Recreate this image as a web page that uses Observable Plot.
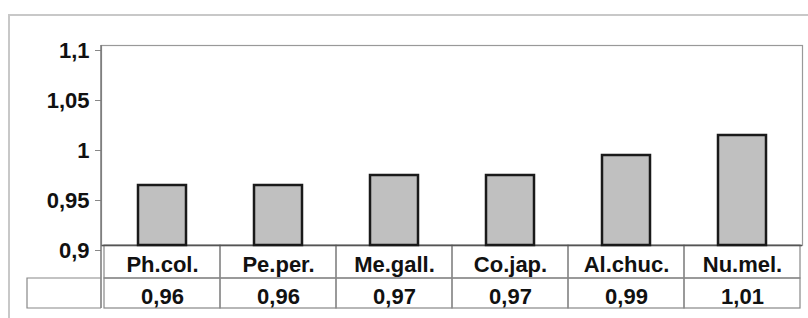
<!DOCTYPE html>
<html><head><meta charset="utf-8">
<script src="https://cdn.jsdelivr.net/npm/d3@7"></script>
<script src="https://cdn.jsdelivr.net/npm/@observablehq/plot@0.6"></script>
<style>
body{margin:0;background:#fff;}
svg{font-family:"Liberation Sans",Arial,sans-serif;font-weight:bold;}
</style></head>
<body>
<div id="chart"></div>
<script>
const categories = ["Ph.col.", "Pe.per.", "Me.gall.", "Co.jap.", "Al.chuc.", "Nu.mel."];
const values = [0.96, 0.96, 0.97, 0.97, 0.99, 1.01];
const yTicks = [0.9, 0.95, 1, 1.05, 1.1];

const data = categories.map((c, i) => ({cat: c, value: values[i]}));
const fmt = d => String(d).replace(".", ",");

const W = 808, H = 318;
const mL = 101, mR = 6, mT = 45, mB = 73;
const yMin = 0.9, yMax = 1.1;
const pxPerUnit = (H - mT - mB) / (yMax - yMin);
const row1 = yMin - 33 / pxPerUnit;   // bottom of category row
const row2 = yMin - 63 / pxPerUnit;   // bottom of value row

const plot = Plot.plot({
  width: W, height: H,
  marginLeft: mL, marginRight: mR, marginTop: mT, marginBottom: mB,
  style: {fontSize: "22px", fontWeight: "bold", color: "#111", background: "#fff"},
  x: {domain: categories, padding: 0, axis: null},
  y: {domain: [yMin, yMax], ticks: yTicks, tickFormat: fmt, label: null},
  marks: [
    Plot.frame({stroke: "#999", strokeWidth: 1.2}),
    // table cells
    Plot.barY(data, {x: "cat", y1: row1, y2: yMin, fill: "none", stroke: "#888", strokeWidth: 1.2}),
    Plot.barY(data, {x: "cat", y1: row2, y2: row1, fill: "none", stroke: "#888", strokeWidth: 1.2}),
    Plot.ruleY([yMin], {stroke: "#555", strokeWidth: 1.5}),
    Plot.barY(data, {x: "cat", y1: yMin, y2: "value", fill: "#c0c0c0", stroke: "#1a1a1a", strokeWidth: 2.5, insetLeft: 34, insetRight: 34}),
    Plot.axisY({ticks: yTicks, tickFormat: fmt, tickSize: 6, tickPadding: 6, label: null, stroke: "#888", dy: 5, fontSize: 22, fill: "#111"}),
    Plot.text(data, {x: "cat", y: yMin, dy: 19, text: "cat", fontSize: 22, fill: "#111"}),
    Plot.text(data, {x: "cat", y: yMin, dy: 51, text: d => fmt(d.value), fontSize: 22, fill: "#111"})
  ]
});

document.getElementById("chart").appendChild(plot);
const svg = d3.select(plot);
// y axis line through plot and table
svg.append("line").attr("x1", mL).attr("x2", mL).attr("y1", mT).attr("y2", H - mB + 63)
  .attr("stroke", "#777").attr("stroke-width", 1.5);
// left header cell of value row
svg.append("path").attr("d", `M${mL},${H - mB + 33}H27V${H - mB + 63}H${mL}`)
  .attr("fill", "none").attr("stroke", "#888").attr("stroke-width", 1.2);
// outer chart-area border
svg.append("path").attr("d", `M9,${H}V15H${W}`)
  .attr("fill", "none").attr("stroke", "#c8c8c8").attr("stroke-width", 2);
</script>
</body></html>
